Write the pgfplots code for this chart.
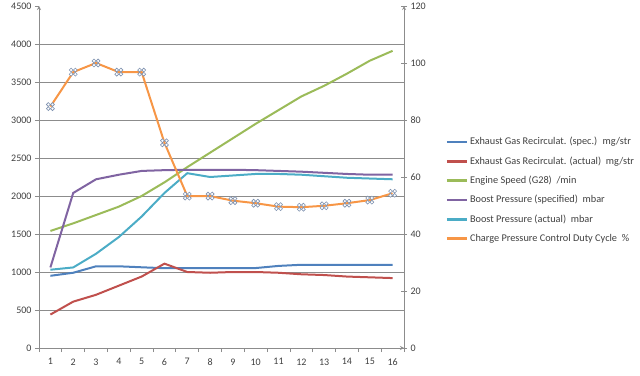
\documentclass[border=0pt]{standalone}
\usepackage{pgfplots}
\pgfplotsset{compat=1.18}
\usepackage{fontspec}
\setmainfont{Carlito}
\definecolor{cBlue}{HTML}{4F81BD}
\definecolor{cRed}{HTML}{C0504D}
\definecolor{cGreen}{HTML}{9BBB59}
\definecolor{cPurple}{HTML}{8064A2}
\definecolor{cCyan}{HTML}{4BACC6}
\definecolor{cOrange}{HTML}{F79646}
\definecolor{cMark}{HTML}{7F92B0}
\definecolor{cGrid}{HTML}{8C8C8C}
\definecolor{cText}{HTML}{404040}
\pgfdeclareplotmark{quad}{%
  \pgfpathcircle{\pgfpoint{2.1pt}{2.1pt}}{1.9pt}%
  \pgfpathcircle{\pgfpoint{-2.1pt}{2.1pt}}{1.9pt}%
  \pgfpathcircle{\pgfpoint{2.1pt}{-2.1pt}}{1.9pt}%
  \pgfpathcircle{\pgfpoint{-2.1pt}{-2.1pt}}{1.9pt}%
  \pgfusepathqfillstroke}
\begin{document}
\begin{tikzpicture}
\useasboundingbox (-39pt,-27pt) rectangle (601pt,348pt);
\pgfplotsset{
  every axis/.append style={
    scale only axis, width=365pt, height=342pt,
    at={(0pt,0pt)}, anchor=south west,
    xmin=0.5, xmax=16.5,
    tick label style={font=\fontsize{10}{12}\selectfont, text=cText},
    /pgf/number format/assume math mode=true,
    axis line style={draw=cGrid, line width=0.8pt, -},
    every tick/.style={draw=cGrid, line width=0.8pt},
  }
}
\begin{axis}[
  ymin=0, ymax=4500,
  axis x line=bottom, axis y line=left,
  ytick={0,500,...,4500},
  tick align=outside, major tick length=4pt,
  xtick={1,...,16},
  x tick style={draw=none},
  extra x ticks={0.5,1.5,...,16.5},
  extra x tick labels={},
  extra x tick style={x tick style={draw=cGrid, line width=0.8pt}, major tick length=4pt},
  extra y ticks={500,1000,...,4000},
  extra y tick labels={},
  extra y tick style={grid=major, major grid style={draw=cGrid, line width=0.8pt}, major tick length=0pt},
  /pgf/number format/1000 sep={},
  xticklabel style={yshift=-3pt},
]
\addplot[cBlue, line width=2pt] coordinates {(1,950) (2,990) (3,1075) (4,1075) (5,1062) (6,1050) (7,1050) (8,1050) (9,1050) (10,1052) (11,1080) (12,1095) (13,1095) (14,1095) (15,1095) (16,1095)};
\addplot[cRed, line width=2pt] coordinates {(1,440) (2,610) (3,700) (4,820) (5,940) (6,1110) (7,1000) (8,990) (9,1000) (10,1000) (11,990) (12,970) (13,960) (14,940) (15,930) (16,920)};
\addplot[cGreen, line width=2pt] coordinates {(1,1540) (2,1640) (3,1750) (4,1860) (5,2000) (6,2180) (7,2380) (8,2570) (9,2760) (10,2950) (11,3130) (12,3310) (13,3450) (14,3610) (15,3780) (16,3910)};
\addplot[cPurple, line width=2pt] coordinates {(1,1060) (2,2040) (3,2220) (4,2280) (5,2330) (6,2340) (7,2345) (8,2345) (9,2345) (10,2340) (11,2330) (12,2320) (13,2305) (14,2290) (15,2280) (16,2280)};
\addplot[cCyan, line width=2pt] coordinates {(1,1030) (2,1060) (3,1240) (4,1460) (5,1730) (6,2040) (7,2300) (8,2250) (9,2270) (10,2290) (11,2290) (12,2280) (13,2260) (14,2240) (15,2230) (16,2220)};
\end{axis}
\begin{axis}[
  ymin=0, ymax=120,
  axis x line=none, axis y line=right,
  ytick={0,20,...,120},
  tick align=center, major tick length=6pt,
  xtick=\empty,
  legend style={at={(1.105,0.628)}, anchor=north west, draw=none, fill=none,
    font=\fontsize{10.3}{12}\selectfont, text=cText, row sep=6.3pt},
  legend cell align=left,
  legend image code/.code={\draw[#1] (0pt,0pt) -- (20pt,0pt);},
]
\addlegendimage{color=cBlue, line width=2.5pt}
\addlegendentry{Exhaust Gas Recirculat. (spec.) \ mg/str}
\addlegendimage{color=cRed, line width=2.5pt}
\addlegendentry{Exhaust Gas Recirculat. (actual) \ mg/str}
\addlegendimage{color=cGreen, line width=2.5pt}
\addlegendentry{Engine Speed (G28) \ /min}
\addlegendimage{color=cPurple, line width=2.5pt}
\addlegendentry{Boost Pressure (specified) \ mbar}
\addlegendimage{color=cCyan, line width=2.5pt}
\addlegendentry{Boost Pressure (actual) \ mbar}
\addlegendimage{color=cOrange, line width=2.5pt}
\addlegendentry{Charge Pressure Control Duty Cycle \ \%}
\addplot[cOrange, line width=2pt, mark=quad, mark options={draw=cMark, fill=white, line width=0.6pt}, forget plot] coordinates {(1,84.7) (2,96.8) (3,100) (4,96.8) (5,96.8) (6,72) (7,53.3) (8,53.3) (9,51.7) (10,50.8) (11,49.6) (12,49.4) (13,49.9) (14,50.8) (15,51.9) (16,54.3)};
\end{axis}
\end{tikzpicture}
\end{document}
